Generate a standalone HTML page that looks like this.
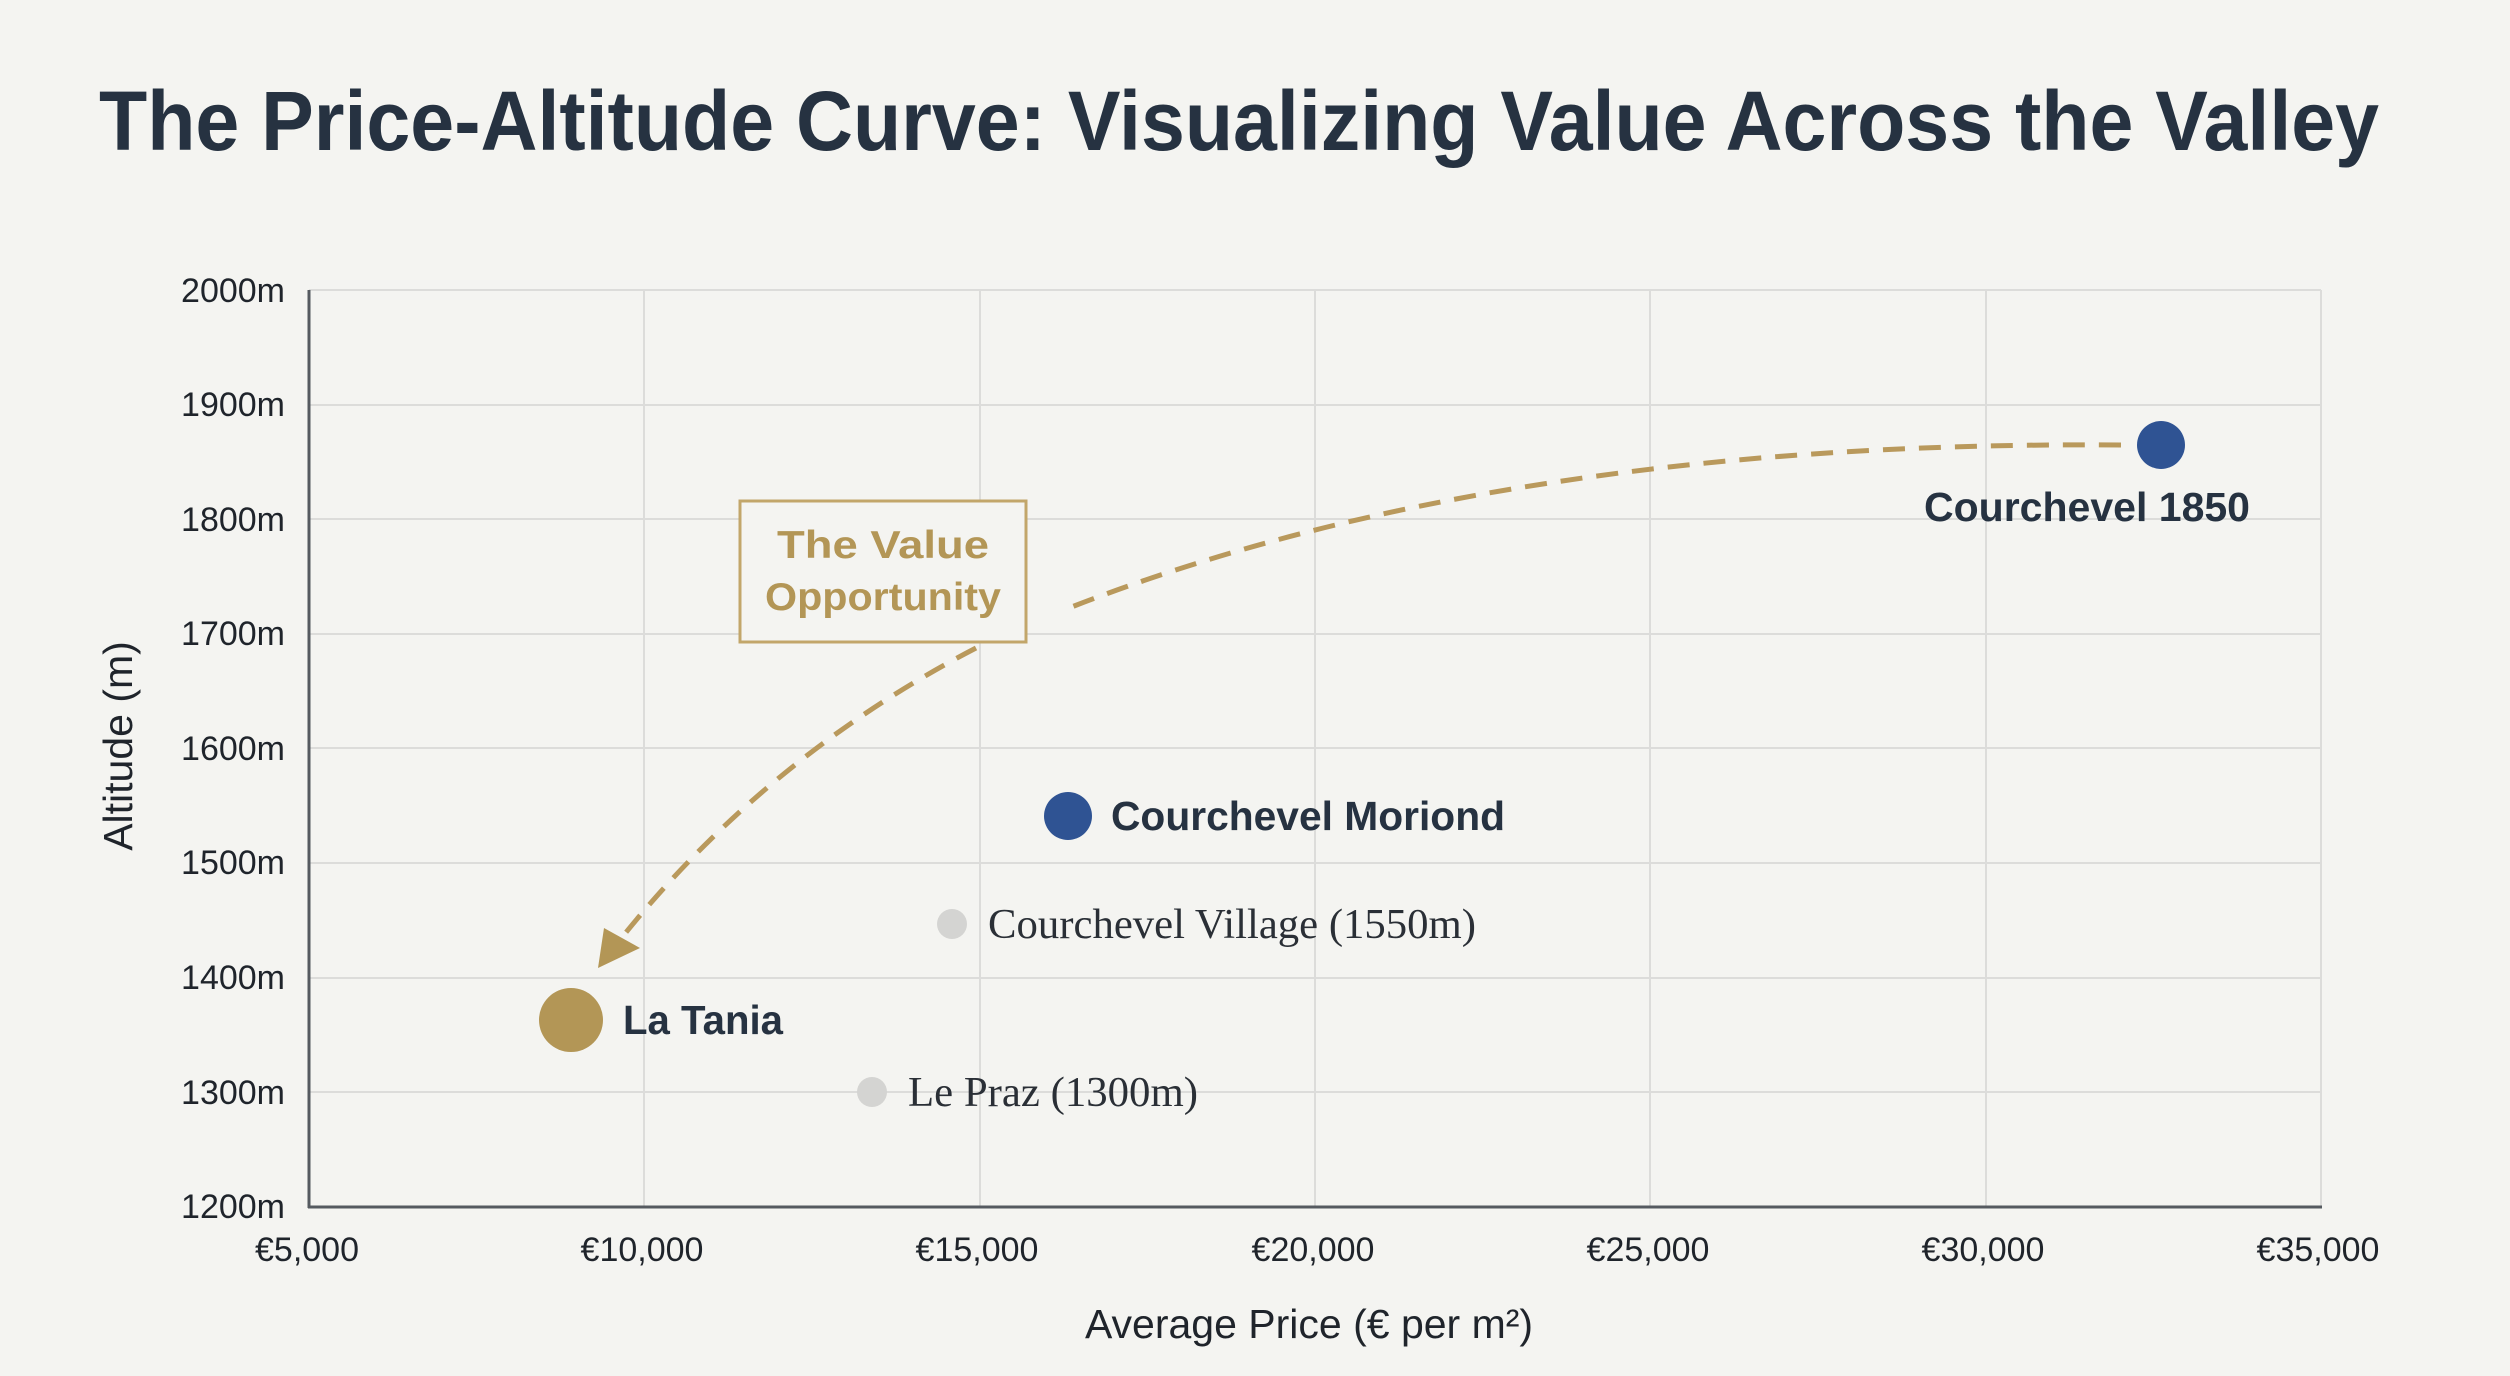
<!DOCTYPE html>
<html><head><meta charset="utf-8"><style>
html,body{margin:0;padding:0;background:#f4f4f1;}
svg{display:block;}
</style></head><body>
<svg width="2510" height="1376" viewBox="0 0 2510 1376" xmlns="http://www.w3.org/2000/svg">
<rect width="2510" height="1376" fill="#f4f4f1"/>
<text x="99" y="150" font-family="Liberation Sans, sans-serif" font-weight="bold" font-size="84" fill="#263241" textLength="2280" lengthAdjust="spacingAndGlyphs">The Price-Altitude Curve: Visualizing Value Across the Valley</text>
<g stroke="#dcdcda" stroke-width="2">
<line x1="309" y1="290" x2="2321" y2="290"/>
<line x1="309" y1="405" x2="2321" y2="405"/>
<line x1="309" y1="519" x2="2321" y2="519"/>
<line x1="309" y1="634" x2="2321" y2="634"/>
<line x1="309" y1="748" x2="2321" y2="748"/>
<line x1="309" y1="863" x2="2321" y2="863"/>
<line x1="309" y1="978" x2="2321" y2="978"/>
<line x1="309" y1="1092" x2="2321" y2="1092"/>
<line x1="644" y1="290" x2="644" y2="1207"/>
<line x1="980" y1="290" x2="980" y2="1207"/>
<line x1="1315" y1="290" x2="1315" y2="1207"/>
<line x1="1650" y1="290" x2="1650" y2="1207"/>
<line x1="1986" y1="290" x2="1986" y2="1207"/>
<line x1="2321" y1="290" x2="2321" y2="1207"/>
</g>
<g stroke="#555a60" stroke-width="3"><line x1="309" y1="290" x2="309" y2="1208"/><line x1="308" y1="1207" x2="2322" y2="1207"/></g>
<g font-family="Liberation Sans, sans-serif" font-size="34" fill="#1f242b" text-anchor="end">
<text x="285" y="302">2000m</text><text x="285" y="416">1900m</text><text x="285" y="531">1800m</text><text x="285" y="645">1700m</text><text x="285" y="760">1600m</text><text x="285" y="874">1500m</text><text x="285" y="989">1400m</text><text x="285" y="1104">1300m</text><text x="285" y="1218">1200m</text>
</g>
<g font-family="Liberation Sans, sans-serif" font-size="34" fill="#1f242b" text-anchor="middle">
<text x="307" y="1261">€5,000</text><text x="642" y="1261">€10,000</text><text x="977" y="1261">€15,000</text><text x="1313" y="1261">€20,000</text><text x="1648" y="1261">€25,000</text><text x="1983" y="1261">€30,000</text><text x="2318" y="1261">€35,000</text>
</g>
<text x="1309" y="1338" font-family="Liberation Sans, sans-serif" font-size="41" fill="#1f242b" text-anchor="middle">Average Price (€ per m²)</text>
<text transform="translate(132,746) rotate(-90)" font-family="Liberation Sans, sans-serif" font-size="41" fill="#1f242b" text-anchor="middle">Altitude (m)</text>
<g fill="none" stroke="#b9995c" stroke-width="5" stroke-dasharray="22 14">
<path d="M2121 445 Q1500 440 1069 608"/>
<path d="M976 648 Q760 760 612 950"/>
</g>
<polygon points="598,968 604,928 640,948" fill="#b39656"/>
<rect x="740" y="501" width="286" height="141" fill="#f4f4f1" stroke="#c2a66a" stroke-width="3"/>
<g font-family="Liberation Sans, sans-serif" font-weight="bold" font-size="39" fill="#b39656" text-anchor="middle">
<text x="883" y="558" textLength="212" lengthAdjust="spacingAndGlyphs">The Value</text><text x="883" y="610" textLength="236" lengthAdjust="spacingAndGlyphs">Opportunity</text>
</g>
<circle cx="2161" cy="445" r="24" fill="#2f5393"/>
<circle cx="1068" cy="816" r="24" fill="#2f5393"/>
<circle cx="952" cy="924" r="15" fill="#d4d4d2"/>
<circle cx="872" cy="1092" r="15" fill="#d4d4d2"/>
<circle cx="571" cy="1020" r="32" fill="#b39656"/>
<g font-family="Liberation Sans, sans-serif" font-weight="bold" font-size="41" fill="#263241">
<text x="2087" y="521" text-anchor="middle" textLength="326" lengthAdjust="spacingAndGlyphs">Courchevel 1850</text>
<text x="1111" y="830" textLength="394" lengthAdjust="spacingAndGlyphs">Courchevel Moriond</text>
<text x="623" y="1034" textLength="160" lengthAdjust="spacingAndGlyphs">La Tania</text>
</g>
<g font-family="Liberation Serif, serif" font-size="42" fill="#2a2f36">
<text x="988" y="938" textLength="488" lengthAdjust="spacingAndGlyphs">Courchevel Village (1550m)</text>
<text x="908" y="1106" textLength="290" lengthAdjust="spacingAndGlyphs">Le Praz (1300m)</text>
</g>
</svg>
</body></html>
